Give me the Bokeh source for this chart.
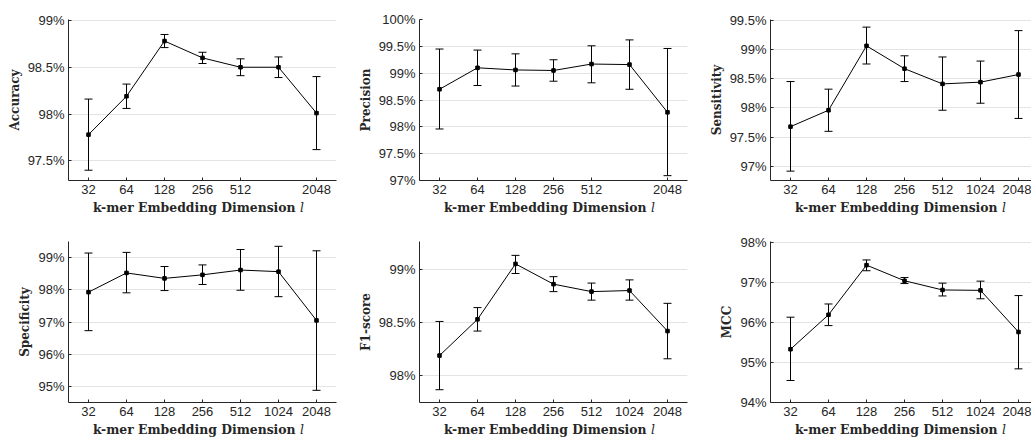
from bokeh.plotting import figure
from bokeh.models import (Range1d, FixedTicker, CustomJSTickFormatter, Whisker,
                          TeeHead, ColumnDataSource, Div)
from bokeh.layouts import column, row
from bokeh.embed import file_html
from bokeh.resources import INLINE

dims = [32, 64, 128, 256, 512, 1024, 2048]

acc_mean = [97.78, 98.19, 98.78, 98.60, 98.50, 98.50, 98.01]
acc_lo = [97.40, 98.06, 98.71, 98.54, 98.41, 98.39, 97.62]
acc_hi = [98.16, 98.32, 98.85, 98.66, 98.59, 98.61, 98.40]

pre_mean = [98.70, 99.10, 99.06, 99.05, 99.17, 99.16, 98.27]
pre_lo = [97.96, 98.77, 98.76, 98.85, 98.82, 98.70, 97.09]
pre_hi = [99.45, 99.43, 99.36, 99.25, 99.51, 99.62, 99.46]

sen_mean = [97.68, 97.96, 99.06, 98.67, 98.41, 98.44, 98.57]
sen_lo = [96.92, 97.60, 98.75, 98.45, 97.96, 98.08, 97.82]
sen_hi = [98.45, 98.32, 99.38, 98.89, 98.87, 98.80, 99.32]

spe_mean = [97.93, 98.53, 98.36, 98.47, 98.62, 98.57, 97.05]
spe_lo = [96.73, 97.91, 97.98, 98.17, 97.99, 97.79, 94.87]
spe_hi = [99.15, 99.17, 98.73, 98.78, 99.26, 99.36, 99.22]

f1_mean = [98.19, 98.53, 99.05, 98.86, 98.79, 98.80, 98.42]
f1_lo = [97.87, 98.42, 98.96, 98.79, 98.71, 98.71, 98.16]
f1_hi = [98.51, 98.64, 99.13, 98.93, 98.87, 98.90, 98.68]

mcc_mean = [95.33, 96.19, 97.43, 97.04, 96.81, 96.80, 95.76]
mcc_lo = [94.55, 95.92, 97.29, 96.97, 96.66, 96.59, 94.84]
mcc_hi = [96.13, 96.46, 97.56, 97.12, 96.98, 97.03, 96.67]

ylabels = ["Accuracy", "Precision", "Sensitivity", "Specificity", "F1-score", "MCC"]
yranges = [(97.29, 99.01), (97.0, 100.0), (96.76, 99.51), (94.49, 99.51), (97.75, 99.26), (94.0, 98.02)]
yticks = [[97.5, 98, 98.5, 99],
          [97, 97.5, 98, 98.5, 99, 99.5, 100],
          [97, 97.5, 98, 98.5, 99, 99.5],
          [95, 96, 97, 98, 99],
          [98, 98.5, 99],
          [94, 95, 96, 97, 98]]
xticks = [[32, 64, 128, 256, 512, 2048],
          [32, 64, 128, 256, 512, 2048],
          dims, dims, dims, dims]
xlabel_main = "k-mer Embedding Dimension"
xlabel_var = "l"

series = [(acc_mean, acc_lo, acc_hi), (pre_mean, pre_lo, pre_hi), (sen_mean, sen_lo, sen_hi),
          (spe_mean, spe_lo, spe_hi), (f1_mean, f1_lo, f1_hi), (mcc_mean, mcc_lo, mcc_hi)]

AX = "#262626"
PX_PER_OCT = 38.0


def make(i):
    mean, lo, hi = series[i]
    col = i % 3
    rowi = i // 3
    lb = 68 if col == 0 else 73
    fw = 268 if col < 2 else 261
    rb = 10 if col < 2 else 0
    tb = 19 if rowi == 0 else 11
    bb = 22
    x0 = 2 ** (5 - 20 / PX_PER_OCT)
    x1 = 2 ** (5 - 20 / PX_PER_OCT + fw / PX_PER_OCT)
    p = figure(x_axis_type="log", x_range=Range1d(x0, x1),
               y_range=Range1d(*yranges[i]),
               frame_width=fw, frame_height=161,
               min_border_left=lb, min_border_right=rb, min_border_top=tb,
               min_border_bottom=bb,
               output_backend="svg", toolbar_location=None,
               background_fill_color="white", border_fill_color="white")
    p.outline_line_color = None
    src = ColumnDataSource(dict(x=dims, m=mean, lo=lo, hi=hi))
    p.add_layout(Whisker(base="x", upper="hi", lower="lo", source=src,
                         line_color="black", line_width=1,
                         upper_head=TeeHead(size=8, line_color="black", line_width=1),
                         lower_head=TeeHead(size=8, line_color="black", line_width=1),
                         level="glyph"))
    p.line(x="x", y="m", source=src, line_color="black", line_width=1)
    p.scatter(x="x", y="m", source=src, marker="square", size=3.5,
              fill_color="black", line_color="black")

    p.xgrid.visible = False
    p.ygrid.grid_line_color = "#e4e4e4"
    p.ygrid.grid_line_width = 1

    p.xaxis.ticker = FixedTicker(ticks=xticks[i], minor_ticks=[])
    p.xaxis.formatter = CustomJSTickFormatter(code="return String(Math.round(tick));")
    p.yaxis.ticker = FixedTicker(ticks=yticks[i], minor_ticks=[])
    p.yaxis.formatter = CustomJSTickFormatter(code="return Number(tick.toFixed(1)) + '%';")
    for ax in (p.xaxis[0], p.yaxis[0]):
        ax.axis_line_color = AX
        ax.axis_line_width = 1
        ax.major_tick_line_color = AX
        ax.major_tick_in = 3
        ax.major_tick_out = 0
        ax.minor_tick_line_color = None
        ax.major_label_text_font = "Liberation Sans"
        ax.major_label_text_font_size = "13px"
        ax.major_label_text_color = AX
        ax.major_label_standoff = 4
    p.yaxis.axis_label = ylabels[i]
    p.yaxis.axis_label_text_font = "DejaVu Serif"
    p.yaxis.axis_label_text_font_style = "bold"
    p.yaxis.axis_label_text_font_size = "12px"
    p.yaxis.axis_label_text_color = AX
    p.yaxis.axis_label_standoff = 3

    total_w = lb + fw + rb
    dh = 28 if rowi == 0 else 12
    html = ('<div style="font-family:\'DejaVu Serif\';font-weight:bold;font-size:12.4px;'
            'color:%s;white-space:nowrap;margin-left:%dpx;line-height:12px;'
            'position:relative;top:-2px">%s <i style="font-weight:normal">%s</i></div>'
            % (AX, lb + 25, xlabel_main, xlabel_var))
    d = Div(text=html, width=total_w, height=dh, margin=0)
    return column(p, d, spacing=0)


cells = [make(i) for i in range(6)]
layout = column(row(*cells[:3], spacing=0), row(*cells[3:], spacing=0), spacing=0)
open("out.html", "w").write(file_html(layout, INLINE))
